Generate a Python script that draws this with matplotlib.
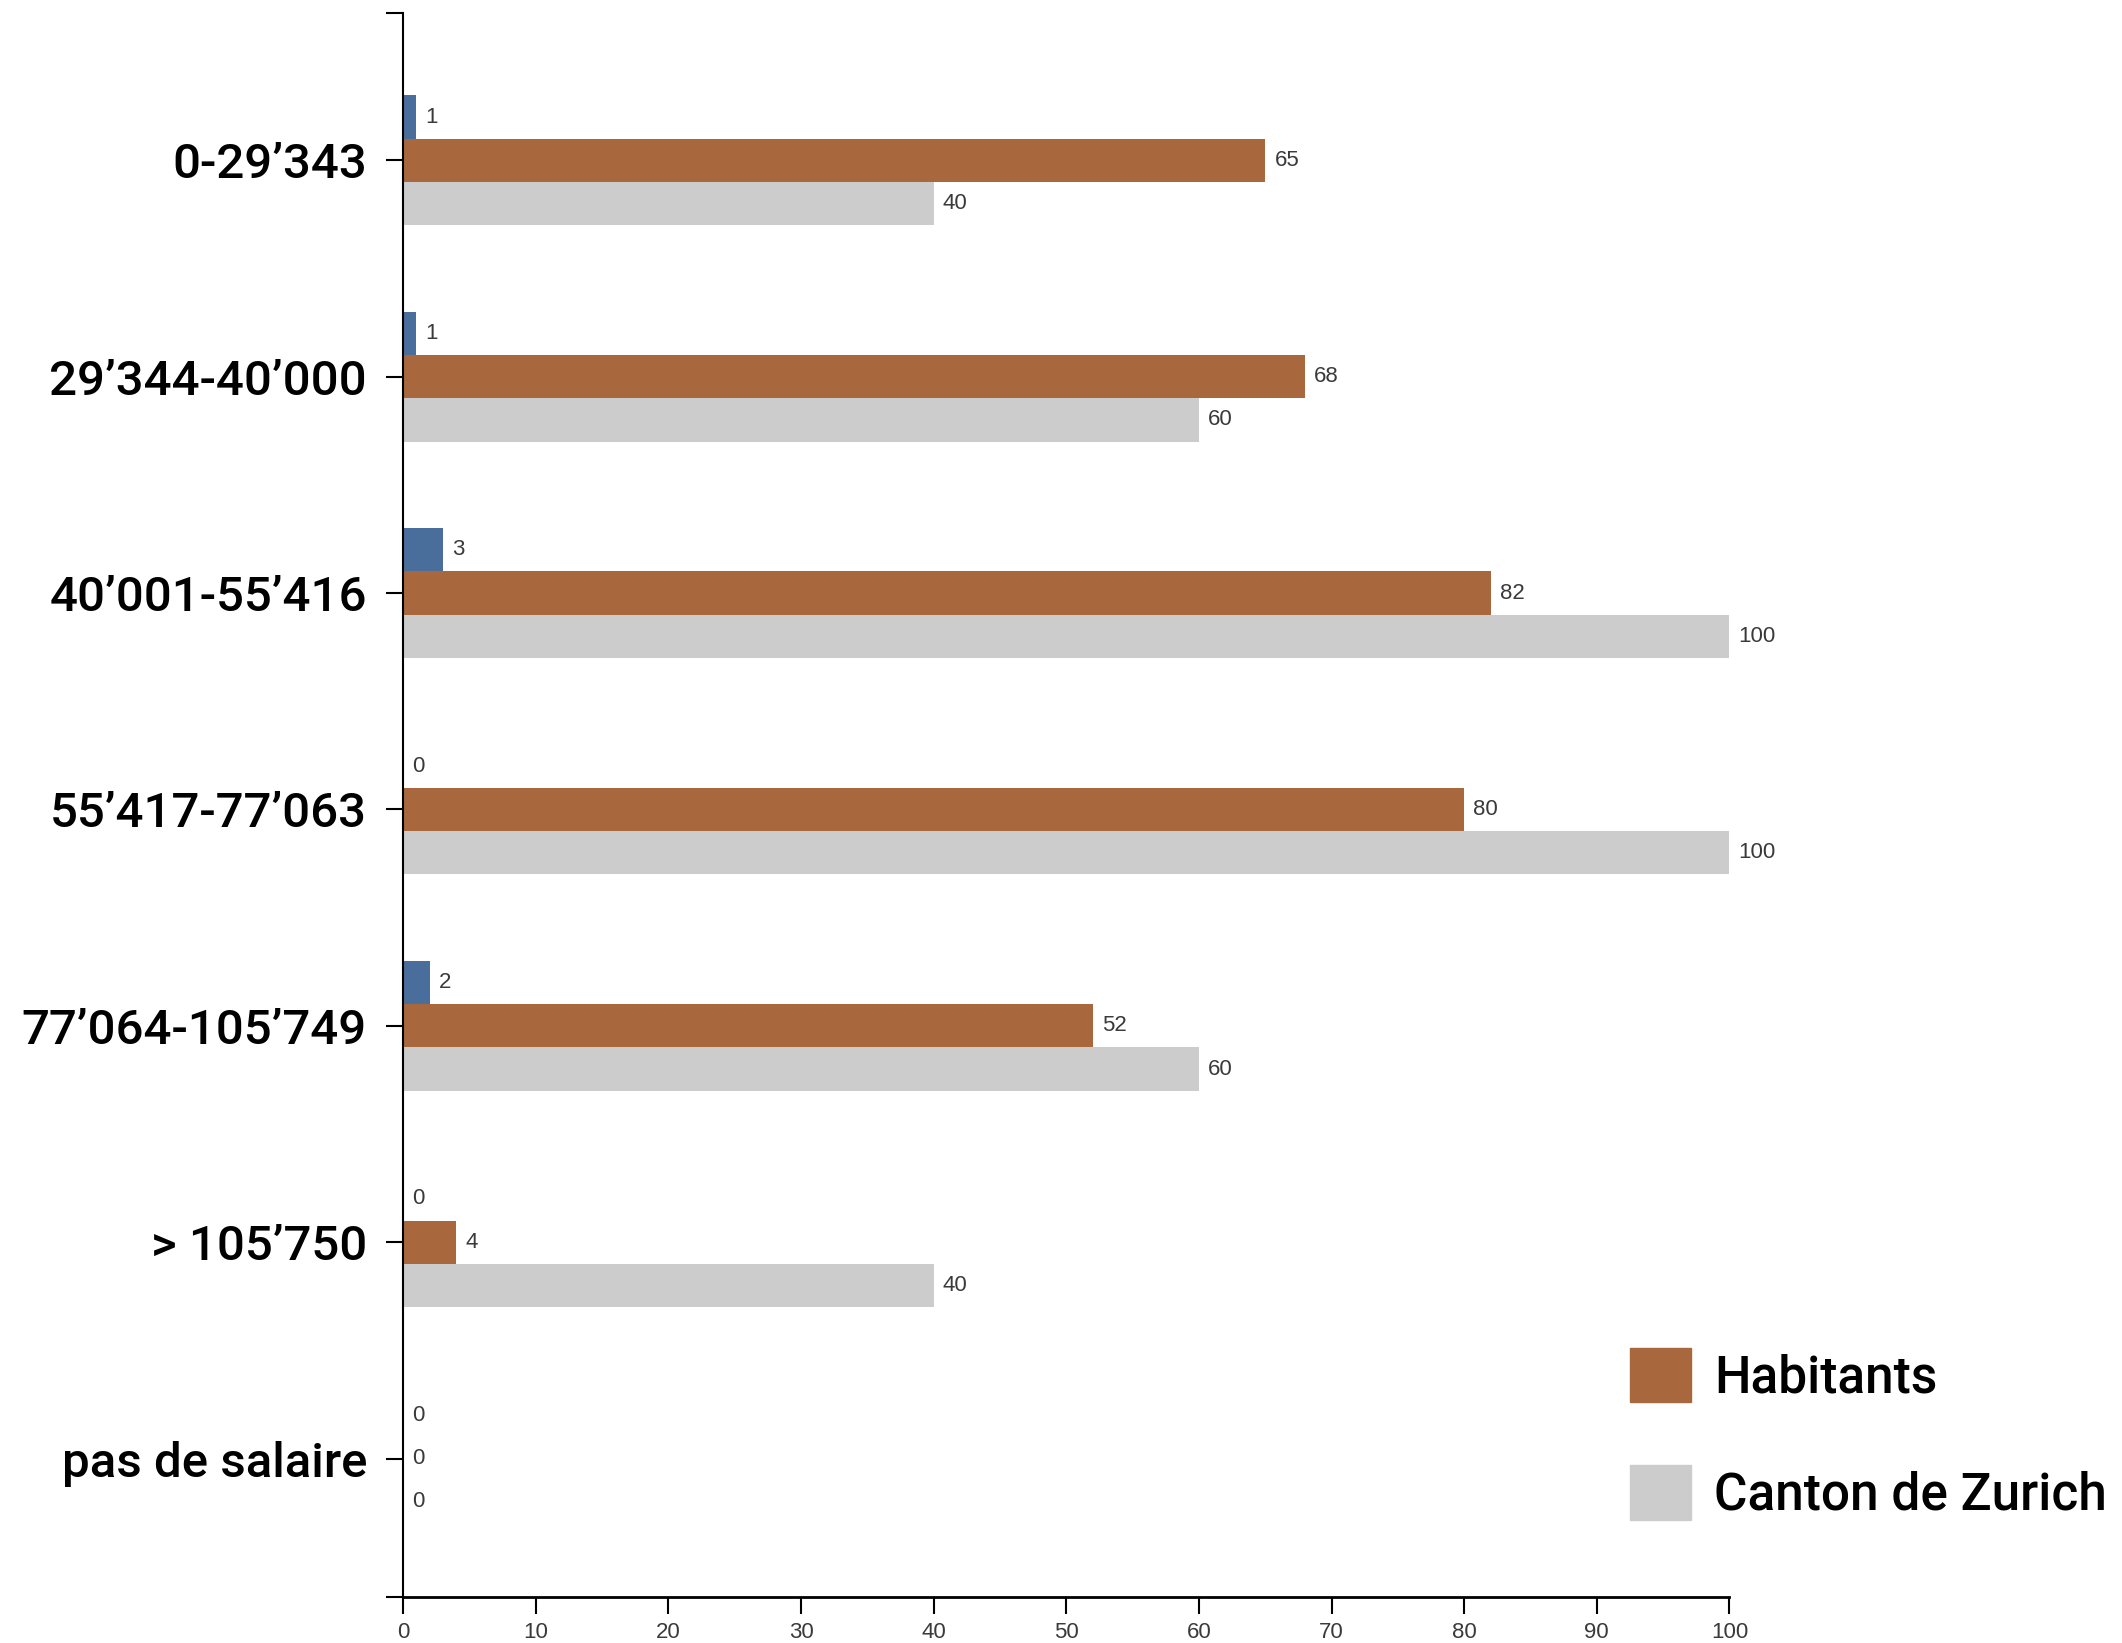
import numpy as np
import matplotlib
matplotlib.use("Agg")
import matplotlib.pyplot as plt
import matplotlib.patches as mpatches

# data
categories = ["0-29\u2019343", "29\u2019344-40\u2019000", "40\u2019001-55\u2019416",
              "55\u2019417-77\u2019063", "77\u2019064-105\u2019749", "> 105\u2019750",
              "pas de salaire"]
autre = [1, 1, 3, 0, 2, 0, 0]
habitants = [65, 68, 82, 80, 52, 4, 0]
canton = [40, 60, 100, 100, 60, 40, 0]
xticks = [0, 10, 20, 30, 40, 50, 60, 70, 80, 90, 100]

c_blue = "#4a6e9c"
c_orange = "#a8673d"
c_grey = "#cccccc"

fig = plt.figure(figsize=(21.22, 16.43), dpi=100)
ax = fig.add_axes([0.19, 0.028, 0.625, 0.964])

y = np.arange(len(categories))
h = 0.2
series = [(autre, -h, c_blue), (habitants, 0, c_orange), (canton, h, c_grey)]
for vals, off, col in series:
    ax.barh(y + off, vals, height=h, color=col, linewidth=0)
    for yi, v in zip(y, vals):
        ax.text(v + 0.7, yi + off, str(v), va="center", ha="left",
                fontsize=16, color="#3a3a3a", family="Liberation Sans")

ax.set_xlim(0, 100)
ax.set_ylim(6.64, -0.68)
ax.set_yticks(y)
ax.set_yticklabels(categories, family="Roboto", fontsize=35.5, fontweight="medium")
ax.set_yticks([6.64, -0.68], minor=True)
ax.set_xticks(xticks)
ax.set_xticklabels([str(t) for t in xticks], family="Liberation Sans",
                   fontsize=16, color="#3a3a3a")

for s in ["top", "right"]:
    ax.spines[s].set_visible(False)
ax.spines["left"].set_linewidth(1.5)
ax.spines["bottom"].set_linewidth(2)
ax.tick_params(axis="y", which="both", length=12, width=1.5, pad=14)
ax.tick_params(axis="x", length=12, width=1.5, pad=6)

# legend (only two series appear in it)
handles = [mpatches.Patch(color=c_orange, label="Habitants"),
           mpatches.Patch(color=c_grey, label="Canton de Zurich")]
leg = fig.legend(handles=handles, loc="center left", bbox_to_anchor=(0.768, 0.127),
                 frameon=False, prop={"family": "Roboto", "size": 37, "weight": "medium"},
                 handlelength=1.2, handleheight=1.25, handletextpad=0.45,
                 labelspacing=1.2, borderpad=0, borderaxespad=0)

fig.savefig("out.png", dpi=100, facecolor="white")
